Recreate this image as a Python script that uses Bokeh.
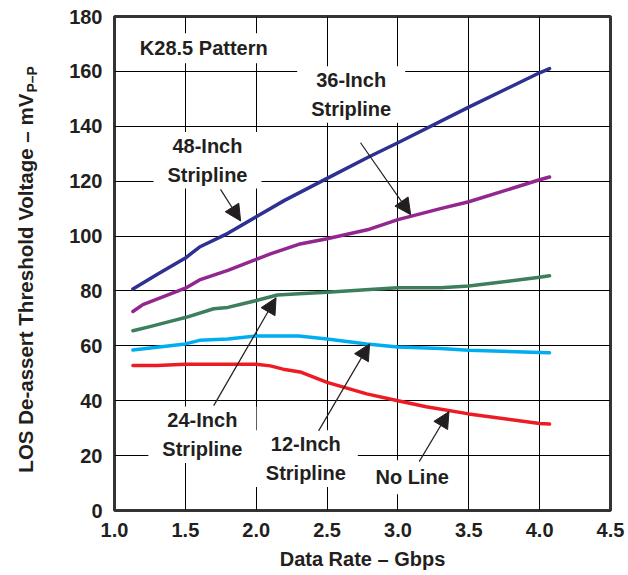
import math
from bokeh.plotting import figure
from bokeh.layouts import row
from bokeh.models import Range1d, FixedTicker, Label, Arrow, NormalHead, CustomJSTickFormatter
from bokeh.core.properties import value
from bokeh.embed import file_html
from bokeh.resources import INLINE

# ---- data ----
x_48 = [1.13, 1.3, 1.5, 1.6, 1.8, 2.0, 2.2, 2.5, 2.8, 3.0, 3.5, 4.0, 4.07]
y_48 = [80.7, 86.0, 92.0, 96.0, 101.0, 107.0, 113.0, 121.0, 129.0, 134.0, 147.0, 159.5, 161.0]

x_36 = [1.13, 1.2, 1.3, 1.5, 1.6, 1.8, 2.0, 2.1, 2.3, 2.5, 2.8, 3.0, 3.3, 3.5, 4.0, 4.07]
y_36 = [72.5, 75.0, 77.0, 81.0, 84.0, 87.5, 91.5, 93.5, 97.0, 99.0, 102.5, 106.0, 110.0, 112.5, 120.5, 121.5]

x_24 = [1.13, 1.25, 1.4, 1.5, 1.7, 1.8, 2.0, 2.15, 2.3, 2.5, 2.8, 3.0, 3.3, 3.5, 4.0, 4.07]
y_24 = [65.5, 67.0, 69.0, 70.3, 73.5, 74.0, 76.5, 78.5, 79.0, 79.5, 80.5, 81.2, 81.2, 81.8, 85.0, 85.5]

x_12 = [1.13, 1.3, 1.5, 1.6, 1.8, 2.0, 2.3, 2.5, 2.78, 3.0, 3.3, 3.5, 4.0, 4.07]
y_12 = [58.5, 59.5, 60.7, 62.0, 62.5, 63.6, 63.6, 62.5, 60.7, 59.6, 59.0, 58.4, 57.6, 57.5]

x_no = [1.13, 1.3, 1.5, 2.0, 2.1, 2.19, 2.31, 2.5, 2.78, 3.0, 3.2, 3.5, 4.0, 4.07]
y_no = [52.8, 52.8, 53.3, 53.3, 52.7, 51.5, 50.5, 46.7, 42.5, 40.0, 37.8, 35.2, 31.7, 31.5]

x_ticks = [1.0, 1.5, 2.0, 2.5, 3.0, 3.5, 4.0, 4.5]
y_ticks = [0, 20, 40, 60, 80, 100, 120, 140, 160, 180]

series = [
    (x_48, y_48, "#2e3192"),
    (x_36, y_36, "#92278f"),
    (x_24, y_24, "#3d7f5c"),
    (x_12, y_12, "#00aeef"),
    (x_no, y_no, "#ed1c24"),
]

TXT = "#231f20"
FONT = "Liberation Sans"

# ---- narrow figure holding the y-axis title (with subscript) ----
# its frame is aligned with the main chart's frame, so it shares the y scale 0..180
TW, H = 50, 575
tfig = figure(width=TW, height=H, output_backend="svg", toolbar_location=None,
              x_range=Range1d(0, TW), y_range=Range1d(0, 180),
              min_border_left=0, min_border_right=0, min_border_top=16, min_border_bottom=65)
tfig.axis.visible = False
tfig.grid.visible = False
tfig.outline_line_color = None
tfig.text(x=[25], y=[13.8], text=["LOS De-assert Threshold Voltage – mV"], angle=math.pi / 2,
          text_align="left", text_baseline="middle", text_font=value(FONT),
          text_font_style="bold", text_font_size="20.5px", text_color=TXT)
tfig.text(x=[31], y=[152.3], text=["P–P"], angle=math.pi / 2,
          text_align="left", text_baseline="middle", text_font=value(FONT),
          text_font_style="bold", text_font_size="14px", text_color=TXT)

# ---- main chart ----
p = figure(width=628 - TW, height=H, output_backend="svg", toolbar_location=None,
           x_range=Range1d(1.0, 4.5), y_range=Range1d(0, 180),
           min_border_left=114 - TW, min_border_right=18, min_border_top=16, min_border_bottom=65)

p.outline_line_color = "#333333"
p.outline_line_width = 3

for ax in (p.xaxis[0], p.yaxis[0]):
    ax.axis_line_color = None
    ax.major_tick_line_color = None
    ax.minor_tick_line_color = None
    ax.major_tick_out = 0
    ax.major_tick_in = 0
    ax.major_label_text_font = FONT
    ax.major_label_text_font_style = "bold"
    ax.major_label_text_font_size = "20px"
    ax.major_label_text_color = TXT
    ax.major_label_standoff = 12

p.xaxis.ticker = FixedTicker(ticks=x_ticks)
p.yaxis.ticker = FixedTicker(ticks=y_ticks)
p.xaxis.formatter = CustomJSTickFormatter(code="return tick.toFixed(1);")
p.yaxis.formatter = CustomJSTickFormatter(code="return tick.toFixed(0);")

p.xaxis.axis_label = "Data Rate – Gbps"
p.xaxis.axis_label_text_font = FONT
p.xaxis.axis_label_text_font_style = "bold"
p.xaxis.axis_label_text_font_size = "20px"
p.xaxis.axis_label_text_color = TXT
p.xaxis.axis_label_standoff = 8

p.xgrid.grid_line_color = "black"
p.ygrid.grid_line_color = "black"
p.xgrid.grid_line_width = 1
p.ygrid.grid_line_width = 1

for xs, ys, c in series:
    p.line(xs, ys, line_color=c, line_width=3.5, line_cap="round", line_join="round")


def note(x, y, txt, padx=14, pady=3):
    lab = Label(x=x, y=y, text=txt, text_align="center", text_baseline="middle",
                text_font=FONT, text_font_style="bold", text_font_size="20px",
                text_color=TXT, text_line_height=1.3,
                background_fill_color="white",
                padding=dict(left=padx, right=padx, top=pady, bottom=pady))
    p.add_layout(lab)


note(1.63, 168.4, "K28.5 Pattern", padx=4, pady=4)
note(1.656, 127.6, "48-Inch\nStripline")
note(2.67, 151.6, "36-Inch\nStripline")
note(1.62, 27.6, "24-Inch\nStripline")
note(2.35, 18.9, "12-Inch\nStripline", padx=12)
note(3.10, 12.1, "No Line", padx=10, pady=6)

arrows = [
    (1.748, 117.0, 1.89, 105.5),
    (2.736, 134.0, 3.09, 107.8),
    (1.70, 38.2, 2.14, 77.5),
    (2.44, 29.0, 2.80, 60.7),
    (3.15, 17.8, 3.36, 36.0),
]
for xs, ys, xe, ye in arrows:
    p.add_layout(Arrow(x_start=xs, y_start=ys, x_end=xe, y_end=ye,
                       line_color=TXT, line_width=1.2,
                       end=NormalHead(size=16, fill_color=TXT, line_color=TXT)))

layout = row(tfig, p)
open("out.html", "w").write(file_html(layout, INLINE))
